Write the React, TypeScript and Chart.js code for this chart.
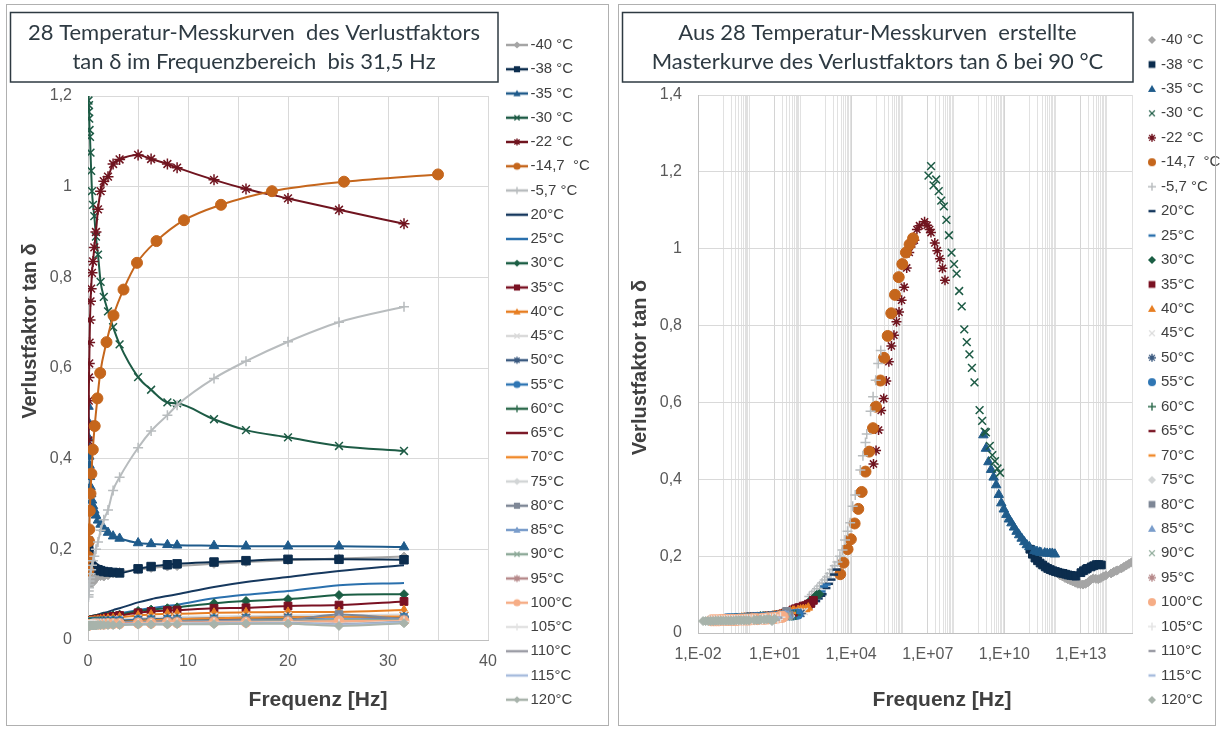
import React, { useEffect, useRef } from 'react';
import { Chart, registerables } from 'chart.js';

Chart.register(...registerables);

// ---------------- DATA ----------------
const SERIES_LABELS = ['-40 °C', '-38 °C', '-35 °C', '-30 °C', '-22 °C', '-14,7  °C', '-5,7 °C', '20°C', '25°C', '30°C', '35°C', '40°C', '45°C', '50°C', '55°C', '60°C', '65°C', '70°C', '75°C', '80°C', '85°C', '90°C', '95°C', '100°C', '105°C', '110°C', '115°C', '120°C'];

const SERIES_COLORS = ['#a5a5a5', '#0c2d4e', '#1f5b8b', '#1d5b45', '#70141f', '#c5661c', '#b8bcbe', '#16385e', '#2a70ad', '#1b5e44', '#7a1122', '#e77e22', '#dadada', '#3b5a80', '#2f76b4', '#2e6b4d', '#7c1a28', '#f08a2c', '#d2d5d6', '#7e8796', '#7a9dcb', '#8eaa99', '#b6898a', '#f6ad86', '#e3e3e3', '#9c9da6', '#a7bcdd', '#a8b3ab'];

const SERIES_MARKERS = ['rectRot', 'rect', 'triangle', 'crossRot', 'star', 'circle', 'cross', 'none', 'none', 'rectRot', 'rect', 'triangle', 'crossRot', 'star', 'circle', 'cross', 'none', 'none', 'rectRot', 'rect', 'triangle', 'crossRot', 'star', 'circle', 'cross', 'none', 'none', 'rectRot'];

// measurement frequencies [Hz]
const FREQ_HZ = [0.05, 0.063, 0.079, 0.1, 0.126, 0.158, 0.2, 0.251, 0.316, 0.398, 0.501, 0.631, 0.794, 1.0, 1.26, 1.58, 2.0, 2.51, 3.16, 5.01, 6.31, 7.94, 8.91, 12.6, 15.8, 20.0, 25.1, 31.6];
const FREQ_HZ_M14_7 = [0.049, 0.066, 0.095, 0.128, 0.18, 0.25, 0.34, 0.48, 0.67, 0.94, 1.22, 1.85, 2.55, 3.55, 4.9, 6.85, 9.6, 13.3, 18.4, 25.6, 35.0];

// loss factor tan delta per temperature
const TAN_M40 = [0.150, 0.147, 0.143, 0.140, 0.137, 0.134, 0.131, 0.128, 0.127, 0.126, 0.128, 0.132, 0.138, 0.142, 0.141, 0.140, 0.143, 0.147, 0.150, 0.155, 0.159, 0.162, 0.163, 0.168, 0.172, 0.176, 0.180, 0.184];
const TAN_M38 = [0.218, 0.205, 0.195, 0.188, 0.182, 0.177, 0.172, 0.168, 0.165, 0.162, 0.160, 0.158, 0.156, 0.155, 0.153, 0.151, 0.150, 0.149, 0.148, 0.157, 0.162, 0.166, 0.168, 0.172, 0.175, 0.178, 0.178, 0.177];
const TAN_M35 = [0.515, 0.480, 0.445, 0.425, 0.405, 0.385, 0.360, 0.338, 0.322, 0.308, 0.296, 0.286, 0.275, 0.264, 0.255, 0.246, 0.237, 0.229, 0.224, 0.214, 0.212, 0.210, 0.209, 0.208, 0.207, 0.207, 0.207, 0.205];
const TAN_M30 = [1.190, 1.215, 1.165, 1.180, 1.150, 1.125, 1.110, 1.075, 1.035, 0.990, 0.960, 0.935, 0.890, 0.850, 0.790, 0.757, 0.725, 0.690, 0.652, 0.580, 0.552, 0.524, 0.522, 0.487, 0.463, 0.447, 0.428, 0.417];
const TAN_M22 = [0.440, 0.475, 0.528, 0.579, 0.610, 0.656, 0.706, 0.747, 0.775, 0.810, 0.835, 0.866, 0.900, 0.950, 0.990, 1.012, 1.022, 1.050, 1.060, 1.070, 1.061, 1.050, 1.042, 1.015, 0.995, 0.974, 0.949, 0.918];
const TAN_M14_7 = [0.153, 0.183, 0.218, 0.244, 0.285, 0.323, 0.367, 0.420, 0.472, 0.533, 0.589, 0.657, 0.716, 0.773, 0.832, 0.880, 0.926, 0.960, 0.990, 1.011, 1.027];
const TAN_M5_7 = [0.095, 0.100, 0.108, 0.115, 0.122, 0.130, 0.138, 0.146, 0.155, 0.165, 0.175, 0.185, 0.200, 0.216, 0.242, 0.265, 0.287, 0.330, 0.359, 0.424, 0.461, 0.496, 0.518, 0.577, 0.615, 0.658, 0.701, 0.735];
const TAN_20 = [0.048, 0.048, 0.049, 0.049, 0.050, 0.050, 0.051, 0.051, 0.052, 0.052, 0.053, 0.054, 0.055, 0.056, 0.058, 0.060, 0.062, 0.066, 0.070, 0.083, 0.090, 0.097, 0.101, 0.117, 0.128, 0.139, 0.152, 0.165];
const TAN_25 = [0.045, 0.045, 0.046, 0.046, 0.046, 0.047, 0.047, 0.047, 0.048, 0.048, 0.049, 0.049, 0.050, 0.051, 0.052, 0.053, 0.055, 0.057, 0.059, 0.066, 0.070, 0.075, 0.078, 0.092, 0.100, 0.108, 0.121, 0.126];
const TAN_30 = [0.042, 0.042, 0.043, 0.043, 0.043, 0.044, 0.044, 0.044, 0.045, 0.045, 0.046, 0.046, 0.047, 0.048, 0.049, 0.050, 0.052, 0.054, 0.056, 0.064, 0.067, 0.070, 0.072, 0.081, 0.086, 0.090, 0.099, 0.101];
const TAN_35 = [0.040, 0.040, 0.041, 0.041, 0.041, 0.042, 0.042, 0.042, 0.043, 0.043, 0.044, 0.044, 0.045, 0.046, 0.047, 0.048, 0.050, 0.052, 0.054, 0.060, 0.063, 0.065, 0.066, 0.070, 0.071, 0.075, 0.077, 0.085];
const TAN_40 = [0.039, 0.039, 0.040, 0.040, 0.040, 0.041, 0.041, 0.041, 0.042, 0.042, 0.042, 0.043, 0.043, 0.044, 0.045, 0.046, 0.047, 0.048, 0.050, 0.054, 0.056, 0.058, 0.058, 0.060, 0.061, 0.062, 0.062, 0.066];
const TAN_45 = [0.038, 0.038, 0.038, 0.039, 0.039, 0.039, 0.040, 0.040, 0.040, 0.041, 0.041, 0.041, 0.042, 0.042, 0.043, 0.043, 0.044, 0.045, 0.046, 0.048, 0.049, 0.050, 0.051, 0.052, 0.053, 0.054, 0.055, 0.056];
const TAN_50 = [0.037, 0.037, 0.038, 0.038, 0.038, 0.038, 0.039, 0.039, 0.039, 0.040, 0.040, 0.040, 0.041, 0.041, 0.041, 0.042, 0.042, 0.043, 0.043, 0.045, 0.046, 0.047, 0.047, 0.048, 0.049, 0.050, 0.050, 0.051];
const TAN_55 = [0.037, 0.037, 0.037, 0.037, 0.038, 0.038, 0.038, 0.038, 0.039, 0.039, 0.039, 0.040, 0.040, 0.040, 0.041, 0.041, 0.041, 0.042, 0.042, 0.044, 0.044, 0.045, 0.045, 0.046, 0.047, 0.047, 0.048, 0.049];
const TAN_60 = [0.036, 0.036, 0.036, 0.037, 0.037, 0.037, 0.037, 0.038, 0.038, 0.038, 0.038, 0.039, 0.039, 0.039, 0.040, 0.040, 0.040, 0.041, 0.041, 0.042, 0.043, 0.043, 0.044, 0.044, 0.045, 0.045, 0.046, 0.047];
const TAN_65 = [0.036, 0.036, 0.036, 0.036, 0.037, 0.037, 0.037, 0.037, 0.037, 0.038, 0.038, 0.038, 0.038, 0.039, 0.039, 0.039, 0.040, 0.040, 0.040, 0.041, 0.042, 0.042, 0.042, 0.043, 0.044, 0.044, 0.045, 0.046];
const TAN_70 = [0.036, 0.036, 0.036, 0.036, 0.036, 0.037, 0.037, 0.037, 0.037, 0.037, 0.038, 0.038, 0.038, 0.038, 0.039, 0.039, 0.039, 0.040, 0.040, 0.042, 0.044, 0.045, 0.046, 0.048, 0.049, 0.050, 0.051, 0.052];
const TAN_75 = [0.035, 0.035, 0.035, 0.035, 0.036, 0.036, 0.036, 0.036, 0.036, 0.036, 0.037, 0.037, 0.037, 0.037, 0.037, 0.038, 0.038, 0.038, 0.038, 0.039, 0.040, 0.040, 0.040, 0.041, 0.041, 0.042, 0.043, 0.044];
const TAN_80 = [0.035, 0.035, 0.035, 0.035, 0.035, 0.036, 0.036, 0.036, 0.036, 0.036, 0.036, 0.037, 0.037, 0.037, 0.037, 0.038, 0.038, 0.038, 0.039, 0.040, 0.041, 0.041, 0.042, 0.043, 0.044, 0.045, 0.056, 0.046];
const TAN_85 = [0.034, 0.034, 0.034, 0.035, 0.035, 0.035, 0.035, 0.035, 0.035, 0.036, 0.036, 0.036, 0.036, 0.036, 0.037, 0.037, 0.037, 0.037, 0.038, 0.039, 0.040, 0.040, 0.040, 0.041, 0.042, 0.043, 0.047, 0.045];
const TAN_90 = [0.034, 0.034, 0.034, 0.034, 0.034, 0.035, 0.035, 0.035, 0.035, 0.035, 0.035, 0.036, 0.036, 0.036, 0.036, 0.036, 0.037, 0.037, 0.037, 0.038, 0.039, 0.039, 0.040, 0.040, 0.041, 0.042, 0.044, 0.044];
const TAN_95 = [0.033, 0.033, 0.034, 0.034, 0.034, 0.034, 0.034, 0.034, 0.035, 0.035, 0.035, 0.035, 0.035, 0.035, 0.036, 0.036, 0.036, 0.036, 0.037, 0.038, 0.038, 0.039, 0.039, 0.040, 0.040, 0.041, 0.040, 0.043];
const TAN_100 = [0.033, 0.033, 0.033, 0.033, 0.034, 0.034, 0.034, 0.034, 0.034, 0.034, 0.034, 0.035, 0.035, 0.035, 0.035, 0.035, 0.036, 0.036, 0.036, 0.037, 0.037, 0.038, 0.038, 0.039, 0.039, 0.040, 0.042, 0.042];
const TAN_105 = [0.033, 0.033, 0.033, 0.033, 0.033, 0.033, 0.033, 0.034, 0.034, 0.034, 0.034, 0.034, 0.034, 0.034, 0.035, 0.035, 0.035, 0.035, 0.035, 0.036, 0.036, 0.037, 0.037, 0.038, 0.038, 0.039, 0.036, 0.041];
const TAN_110 = [0.032, 0.032, 0.032, 0.032, 0.033, 0.033, 0.033, 0.033, 0.033, 0.033, 0.033, 0.033, 0.034, 0.034, 0.034, 0.034, 0.034, 0.034, 0.035, 0.035, 0.036, 0.036, 0.036, 0.037, 0.037, 0.038, 0.035, 0.040];
const TAN_115 = [0.032, 0.032, 0.032, 0.032, 0.032, 0.032, 0.032, 0.033, 0.033, 0.033, 0.033, 0.033, 0.033, 0.033, 0.033, 0.034, 0.034, 0.034, 0.034, 0.035, 0.035, 0.035, 0.036, 0.036, 0.037, 0.037, 0.034, 0.039];
const TAN_120 = [0.031, 0.031, 0.031, 0.031, 0.031, 0.032, 0.032, 0.032, 0.032, 0.032, 0.032, 0.032, 0.032, 0.033, 0.033, 0.033, 0.033, 0.033, 0.033, 0.034, 0.034, 0.034, 0.035, 0.035, 0.036, 0.036, 0.031, 0.037];

// horizontal shift factors log10(aT) to the 90 °C reference
const LOG_SHIFT = [13.48, 12.3, 10.48, 8.33, 6.175, 4.88, 3.66, 1.93, 1.54, 1.25, 1.02, 0.82, 0.66, 0.53, 0.42, 0.33, 0.25, 0.18, 0.12, 0.07, 0.03, 0, -0.1, -0.18, -0.27, -0.35, -0.43, -0.5];

const LEFT_X_TICKS = [0, 10, 20, 30, 40];
const RIGHT_X_LABEL_EXP = [-2, 1, 4, 7, 10, 13];
const RIGHT_MINOR_DECADES = [-1, 1, 3, 5, 7, 9, 11, 13];

const SERIES_VALUES = [TAN_M40, TAN_M38, TAN_M35, TAN_M30, TAN_M22, TAN_M14_7, TAN_M5_7, TAN_20, TAN_25, TAN_30, TAN_35, TAN_40, TAN_45, TAN_50, TAN_55, TAN_60, TAN_65, TAN_70, TAN_75, TAN_80, TAN_85, TAN_90, TAN_95, TAN_100, TAN_105, TAN_110, TAN_115, TAN_120];
const SERIES_FREQ = SERIES_VALUES.map((_, i) => (i === 5 ? FREQ_HZ_M14_7 : FREQ_HZ));

const LEFT_RADIUS = [4.5, 6, 5.5, 5.5, 5.5, 5.5, 5, 0, 0, 4.5, 5.5, 5, 5, 5, 4.5, 5, 0, 0, 4.5, 5.5, 5, 5, 5, 5, 5, 0, 0, 4.5];
const RIGHT_RADIUS = [4.5, 5.5, 5.5, 5.5, 5, 5.5, 5, 4, 4, 4.5, 5.5, 5, 5, 5, 5, 5, 4, 4, 4.5, 5.5, 5, 5, 5, 5.5, 5, 4, 4, 4.5];

// ---------------- helpers ----------------
const TICK_FONT = { family: 'Liberation Sans', size: 16 };
const TICK_COLOR = '#595959';
const AXIS_TITLE_COLOR = '#404040';
const GRID_COLOR = '#d9d9d9';

const fmtComma = (v: number) => String(Math.round(v * 10) / 10).replace('.', ',');

function drawMarker(ctx: CanvasRenderingContext2D, style: string, cx: number, cy: number, r: number, color: string) {
  ctx.save();
  ctx.fillStyle = color;
  ctx.strokeStyle = color;
  ctx.lineWidth = 1.4;
  ctx.beginPath();
  if (style === 'circle') { ctx.arc(cx, cy, r, 0, Math.PI * 2); ctx.fill(); }
  else if (style === 'rect') { const s = r * 0.85; ctx.rect(cx - s, cy - s, 2 * s, 2 * s); ctx.fill(); }
  else if (style === 'rectRot') { ctx.moveTo(cx, cy - r); ctx.lineTo(cx + r, cy); ctx.lineTo(cx, cy + r); ctx.lineTo(cx - r, cy); ctx.closePath(); ctx.fill(); }
  else if (style === 'triangle') { ctx.moveTo(cx, cy - r); ctx.lineTo(cx + r, cy + r * 0.75); ctx.lineTo(cx - r, cy + r * 0.75); ctx.closePath(); ctx.fill(); }
  if (style === 'cross' || style === 'star') { ctx.moveTo(cx - r, cy); ctx.lineTo(cx + r, cy); ctx.moveTo(cx, cy - r); ctx.lineTo(cx, cy + r); }
  if (style === 'crossRot' || style === 'star') { const d = r * 0.72; ctx.moveTo(cx - d, cy - d); ctx.lineTo(cx + d, cy + d); ctx.moveTo(cx + d, cy - d); ctx.lineTo(cx - d, cy + d); }
  if (style === 'cross' || style === 'crossRot' || style === 'star') ctx.stroke();
  if (style === 'line') { ctx.lineWidth = 2.5; ctx.moveTo(cx - r, cy); ctx.lineTo(cx + r, cy); ctx.stroke(); }
  ctx.restore();
}

function legendImage(color: string, style: string, withLine: boolean, w: number, h: number, r: number) {
  const c = document.createElement('canvas');
  c.width = w; c.height = h;
  const ctx = c.getContext('2d') as CanvasRenderingContext2D;
  if (withLine) {
    ctx.strokeStyle = color; ctx.lineWidth = 2.5; ctx.beginPath();
    ctx.moveTo(0, h / 2); ctx.lineTo(w, h / 2); ctx.stroke();
  }
  if (style !== 'none') drawMarker(ctx, style, w / 2, h / 2, r, color);
  return c;
}

function panelPlugin(p: any) {
  return {
    id: 'panelTweaks',
    beforeLayout(chart: any) {
      const lg = chart.legend;
      if (lg && !lg.__fixed) {
        const fit = lg.fit.bind(lg);
        lg.fit = () => { fit(); lg.width = p.legendWidth; };
        lg.__fixed = true;
      }
    },
    afterLayout(chart: any) {
      const lg = chart.legend;
      if (lg) { lg.left = p.legendLeft; lg.right = p.legendLeft + lg.width; lg.top = p.legendTop; }
      const t = chart.titleBlock;
      if (t) { t.left = p.titleLeft; t.right = p.titleRight; t.width = p.titleRight - p.titleLeft; }
      const xs = chart.scales.x;
      if (xs && !xs.__pt) {
        const dt = xs.drawTitle.bind(xs);
        xs.drawTitle = () => { xs.left += p.xTitleDx; xs.right += p.xTitleDx; dt(); xs.left -= p.xTitleDx; xs.right -= p.xTitleDx; };
        xs.__pt = true;
      }
      const ys = chart.scales.y;
      if (ys && !ys.__pt) {
        const dt = ys.drawTitle.bind(ys);
        ys.drawTitle = () => { ys.top += p.yTitleDy; ys.bottom += p.yTitleDy; dt(); ys.top -= p.yTitleDy; ys.bottom -= p.yTitleDy; };
        ys.__pt = true;
      }
    },
    afterDraw(chart: any) {
      const ctx = chart.ctx;
      ctx.save();
      ctx.strokeStyle = '#2e3a42';
      ctx.lineWidth = 1.5;
      ctx.strokeRect(p.box[0], p.box[1], p.box[2] - p.box[0], p.box[3] - p.box[1]);
      ctx.restore();
    },
  };
}

function legendOptions(images: HTMLCanvasElement[], bw: number, padding: number) {
  return {
    display: true,
    position: 'right',
    align: 'start',
    labels: {
      usePointStyle: true,
      pointStyleWidth: bw,
      padding,
      color: '#404040',
      font: { family: 'Liberation Sans', size: 15 },
      generateLabels: (chart: any) => chart.data.datasets.map((_: any, i: number) => ({
        text: SERIES_LABELS[i],
        pointStyle: images[i],
        datasetIndex: i,
        hidden: false,
        fillStyle: 'rgba(0,0,0,0)',
        strokeStyle: 'rgba(0,0,0,0)',
        lineWidth: 0,
        fontColor: '#404040',
        rotation: 0,
      })),
    },
  };
}

function titleOptions(text: string[], padBottom: number) {
  return {
    display: true,
    text,
    position: 'top',
    fullSize: false,
    align: 'center',
    color: '#2e3a42',
    font: { family: 'Lato', size: 22, weight: 'normal', lineHeight: 29 / 22 },
    padding: { top: 10.5, bottom: padBottom },
  };
}

function buildLeft(): any {
  const N = SERIES_VALUES.length;
  const images = SERIES_VALUES.map((_, i) => legendImage(SERIES_COLORS[i], SERIES_MARKERS[i], true, 22, 14, 3.6));
  const datasets = SERIES_VALUES.map((vals, i) => {
    const m = SERIES_MARKERS[i];
    const stroked = m === 'cross' || m === 'crossRot' || m === 'star';
    return {
      label: SERIES_LABELS[i],
      data: vals.map((v, j) => ({ x: SERIES_FREQ[i][j], y: v })),
      showLine: true,
      borderColor: SERIES_COLORS[i],
      backgroundColor: SERIES_COLORS[i],
      borderWidth: 2,
      pointStyle: m === 'none' ? 'circle' : m,
      pointRadius: m === 'none' ? 0 : LEFT_RADIUS[i],
      pointBorderWidth: stroked ? 1.5 : 1,
      pointBackgroundColor: SERIES_COLORS[i],
      pointBorderColor: SERIES_COLORS[i],
      cubicInterpolationMode: 'monotone',
      tension: 0.4,
      order: N - 1 - i,
    };
  });
  return {
    type: 'scatter',
    data: { datasets },
    options: {
      responsive: false,
      animation: false,
      devicePixelRatio: 1,
      layout: { padding: { left: 8, top: 8, right: 0, bottom: 0 } },
      plugins: {
        tooltip: { enabled: false },
        legend: legendOptions(images, 12, 9.25),
        title: titleOptions(['28 Temperatur-Messkurven  des Verlustfaktors', 'tan δ im Frequenzbereich  bis 31,5 Hz'], 19.5),
      },
      scales: {
        x: {
          type: 'linear', min: 0, max: 40,
          afterFit: (s: any) => { s.height = 89; },
          ticks: { stepSize: 5, font: TICK_FONT, color: TICK_COLOR, padding: 12.4, maxRotation: 0, autoSkip: false,
            callback: (v: number) => (LEFT_X_TICKS.includes(v) ? String(v) : '') },
          grid: { color: GRID_COLOR, drawTicks: false },
          border: { color: '#bfbfbf' },
          title: { display: true, text: 'Frequenz [Hz]', color: AXIS_TITLE_COLOR, font: { family: 'Liberation Sans', size: 21, weight: 'bold' }, padding: { top: 0, bottom: 16.4 } },
        },
        y: {
          type: 'linear', min: 0, max: 1.2,
          afterFit: (s: any) => { s.width = 80; },
          ticks: { stepSize: 0.2, font: TICK_FONT, color: TICK_COLOR, padding: 16, callback: (v: number) => fmtComma(v) },
          grid: { color: GRID_COLOR, drawTicks: false },
          border: { color: '#bfbfbf' },
          title: { display: true, text: 'Verlustfaktor tan δ', color: AXIS_TITLE_COLOR, font: { family: 'Liberation Sans', size: 20, weight: 'bold' }, padding: { top: 10, bottom: 0 } },
        },
      },
    },
    plugins: [panelPlugin({ legendWidth: 122, legendLeft: 501.75, legendTop: 28.25, titleLeft: 10, titleRight: 498, xTitleDx: 30, yTitleDy: -37, box: [10.5, 12.5, 498, 82] })],
  };
}

function isLabelExp(v: number) {
  const e = Math.log10(v);
  const r = Math.round(e);
  return Math.abs(e - r) < 1e-9 && RIGHT_X_LABEL_EXP.includes(r);
}

function buildRightTicks() {
  const map = new Map<string, number>();
  const add = (v: number) => { map.set(Math.log10(v).toFixed(6), v); };
  RIGHT_X_LABEL_EXP.forEach((e) => add(Math.pow(10, e)));
  RIGHT_MINOR_DECADES.forEach((n) => {
    for (let k = 1; k <= 10; k++) add(k * Math.pow(10, n));
  });
  add(1e15);
  return Array.from(map.values()).sort((a, b) => a - b).map((v) => ({ value: v }));
}

function buildRight(): any {
  const N = SERIES_VALUES.length;
  const images = SERIES_VALUES.map((_, i) => legendImage(SERIES_COLORS[i], SERIES_MARKERS[i] === 'none' ? 'line' : SERIES_MARKERS[i], false, 12, 12, SERIES_MARKERS[i] === 'none' ? 3.5 : 4));
  const datasets = SERIES_VALUES.map((vals, i) => {
    const m = SERIES_MARKERS[i] === 'none' ? 'line' : SERIES_MARKERS[i];
    const stroked = m === 'cross' || m === 'crossRot' || m === 'star' || m === 'line';
    const aT = Math.pow(10, LOG_SHIFT[i]);
    return {
      label: SERIES_LABELS[i],
      data: vals.map((v, j) => ({ x: SERIES_FREQ[i][j] * aT, y: v })),
      showLine: false,
      borderColor: SERIES_COLORS[i],
      backgroundColor: SERIES_COLORS[i],
      pointStyle: m,
      pointRadius: RIGHT_RADIUS[i],
      pointBorderWidth: m === 'line' ? 2.5 : stroked ? 1.5 : 1,
      pointBackgroundColor: SERIES_COLORS[i],
      pointBorderColor: SERIES_COLORS[i],
      order: N - 1 - i,
    };
  });
  const xTicks = buildRightTicks();
  return {
    type: 'scatter',
    data: { datasets },
    options: {
      responsive: false,
      animation: false,
      devicePixelRatio: 1,
      layout: { padding: { left: 8, top: 8, right: 0, bottom: 0 } },
      plugins: {
        tooltip: { enabled: false },
        legend: legendOptions(images, 3, 9.44),
        title: titleOptions(['Aus 28 Temperatur-Messkurven  erstellte', 'Masterkurve des Verlustfaktors tan δ bei 90 °C'], 18.5),
      },
      scales: {
        x: {
          type: 'logarithmic', min: 1e-2, max: 1e15,
          afterFit: (s: any) => { s.height = 96; },
          afterBuildTicks: (s: any) => { s.ticks = xTicks.map((t) => ({ value: t.value })); },
          ticks: {
            font: TICK_FONT, color: TICK_COLOR, padding: 12.4, autoSkip: false, maxRotation: 0, minRotation: 0,
            callback: (v: number) => {
              if (!isLabelExp(v)) return '';
              const e = Math.round(Math.log10(v));
              return '1,E' + (e < 0 ? '-' : '+') + String(Math.abs(e)).padStart(2, '0');
            },
          },
          grid: { color: (c: any) => (c.tick && isLabelExp(c.tick.value) ? '#d4d4d4' : '#e1e1e1'), drawTicks: false },
          border: { color: '#bfbfbf' },
          title: { display: true, text: 'Frequenz [Hz]', color: AXIS_TITLE_COLOR, font: { family: 'Liberation Sans', size: 21, weight: 'bold' }, padding: { top: 0, bottom: 16.4 } },
        },
        y: {
          type: 'linear', min: 0, max: 1.4,
          afterFit: (s: any) => { s.width = 78; },
          ticks: { stepSize: 0.2, font: TICK_FONT, color: TICK_COLOR, padding: 16, callback: (v: number) => fmtComma(v) },
          grid: { color: GRID_COLOR, drawTicks: false },
          border: { color: '#bfbfbf' },
          title: { display: true, text: 'Verlustfaktor tan δ', color: AXIS_TITLE_COLOR, font: { family: 'Liberation Sans', size: 20, weight: 'bold' }, padding: { top: 8, bottom: 0 } },
        },
      },
    },
    plugins: [panelPlugin({ legendWidth: 92, legendLeft: 529.06, legendTop: 23.06, titleLeft: 10, titleRight: 521, xTitleDx: 27, yTitleDy: 3.5, box: [10.5, 12.5, 521, 82] })],
  };
}

export default function App() {
  const leftRef = useRef<HTMLCanvasElement>(null);
  const rightRef = useRef<HTMLCanvasElement>(null);
  useEffect(() => {
    const c1 = new Chart(leftRef.current as HTMLCanvasElement, buildLeft());
    const c2 = new Chart(rightRef.current as HTMLCanvasElement, buildRight());
    return () => { c1.destroy(); c2.destroy(); };
  }, []);
  const frame: React.CSSProperties = { position: 'absolute', top: 4, height: 722, border: '1px solid #b0b0b0', boxSizing: 'border-box', pointerEvents: 'none' };
  return (
    <div style={{ position: 'fixed', left: 0, top: 0, width: 1224, height: 729, background: '#ffffff', overflow: 'hidden' }}>
      <canvas ref={leftRef} width={610} height={729} style={{ position: 'absolute', left: 0, top: 0, width: 610, height: 729 }} />
      <canvas ref={rightRef} width={612} height={729} style={{ position: 'absolute', left: 612, top: 0, width: 612, height: 729 }} />
      <div style={{ ...frame, left: 6, width: 603 }} />
      <div style={{ ...frame, left: 618, width: 598 }} />
    </div>
  );
}
